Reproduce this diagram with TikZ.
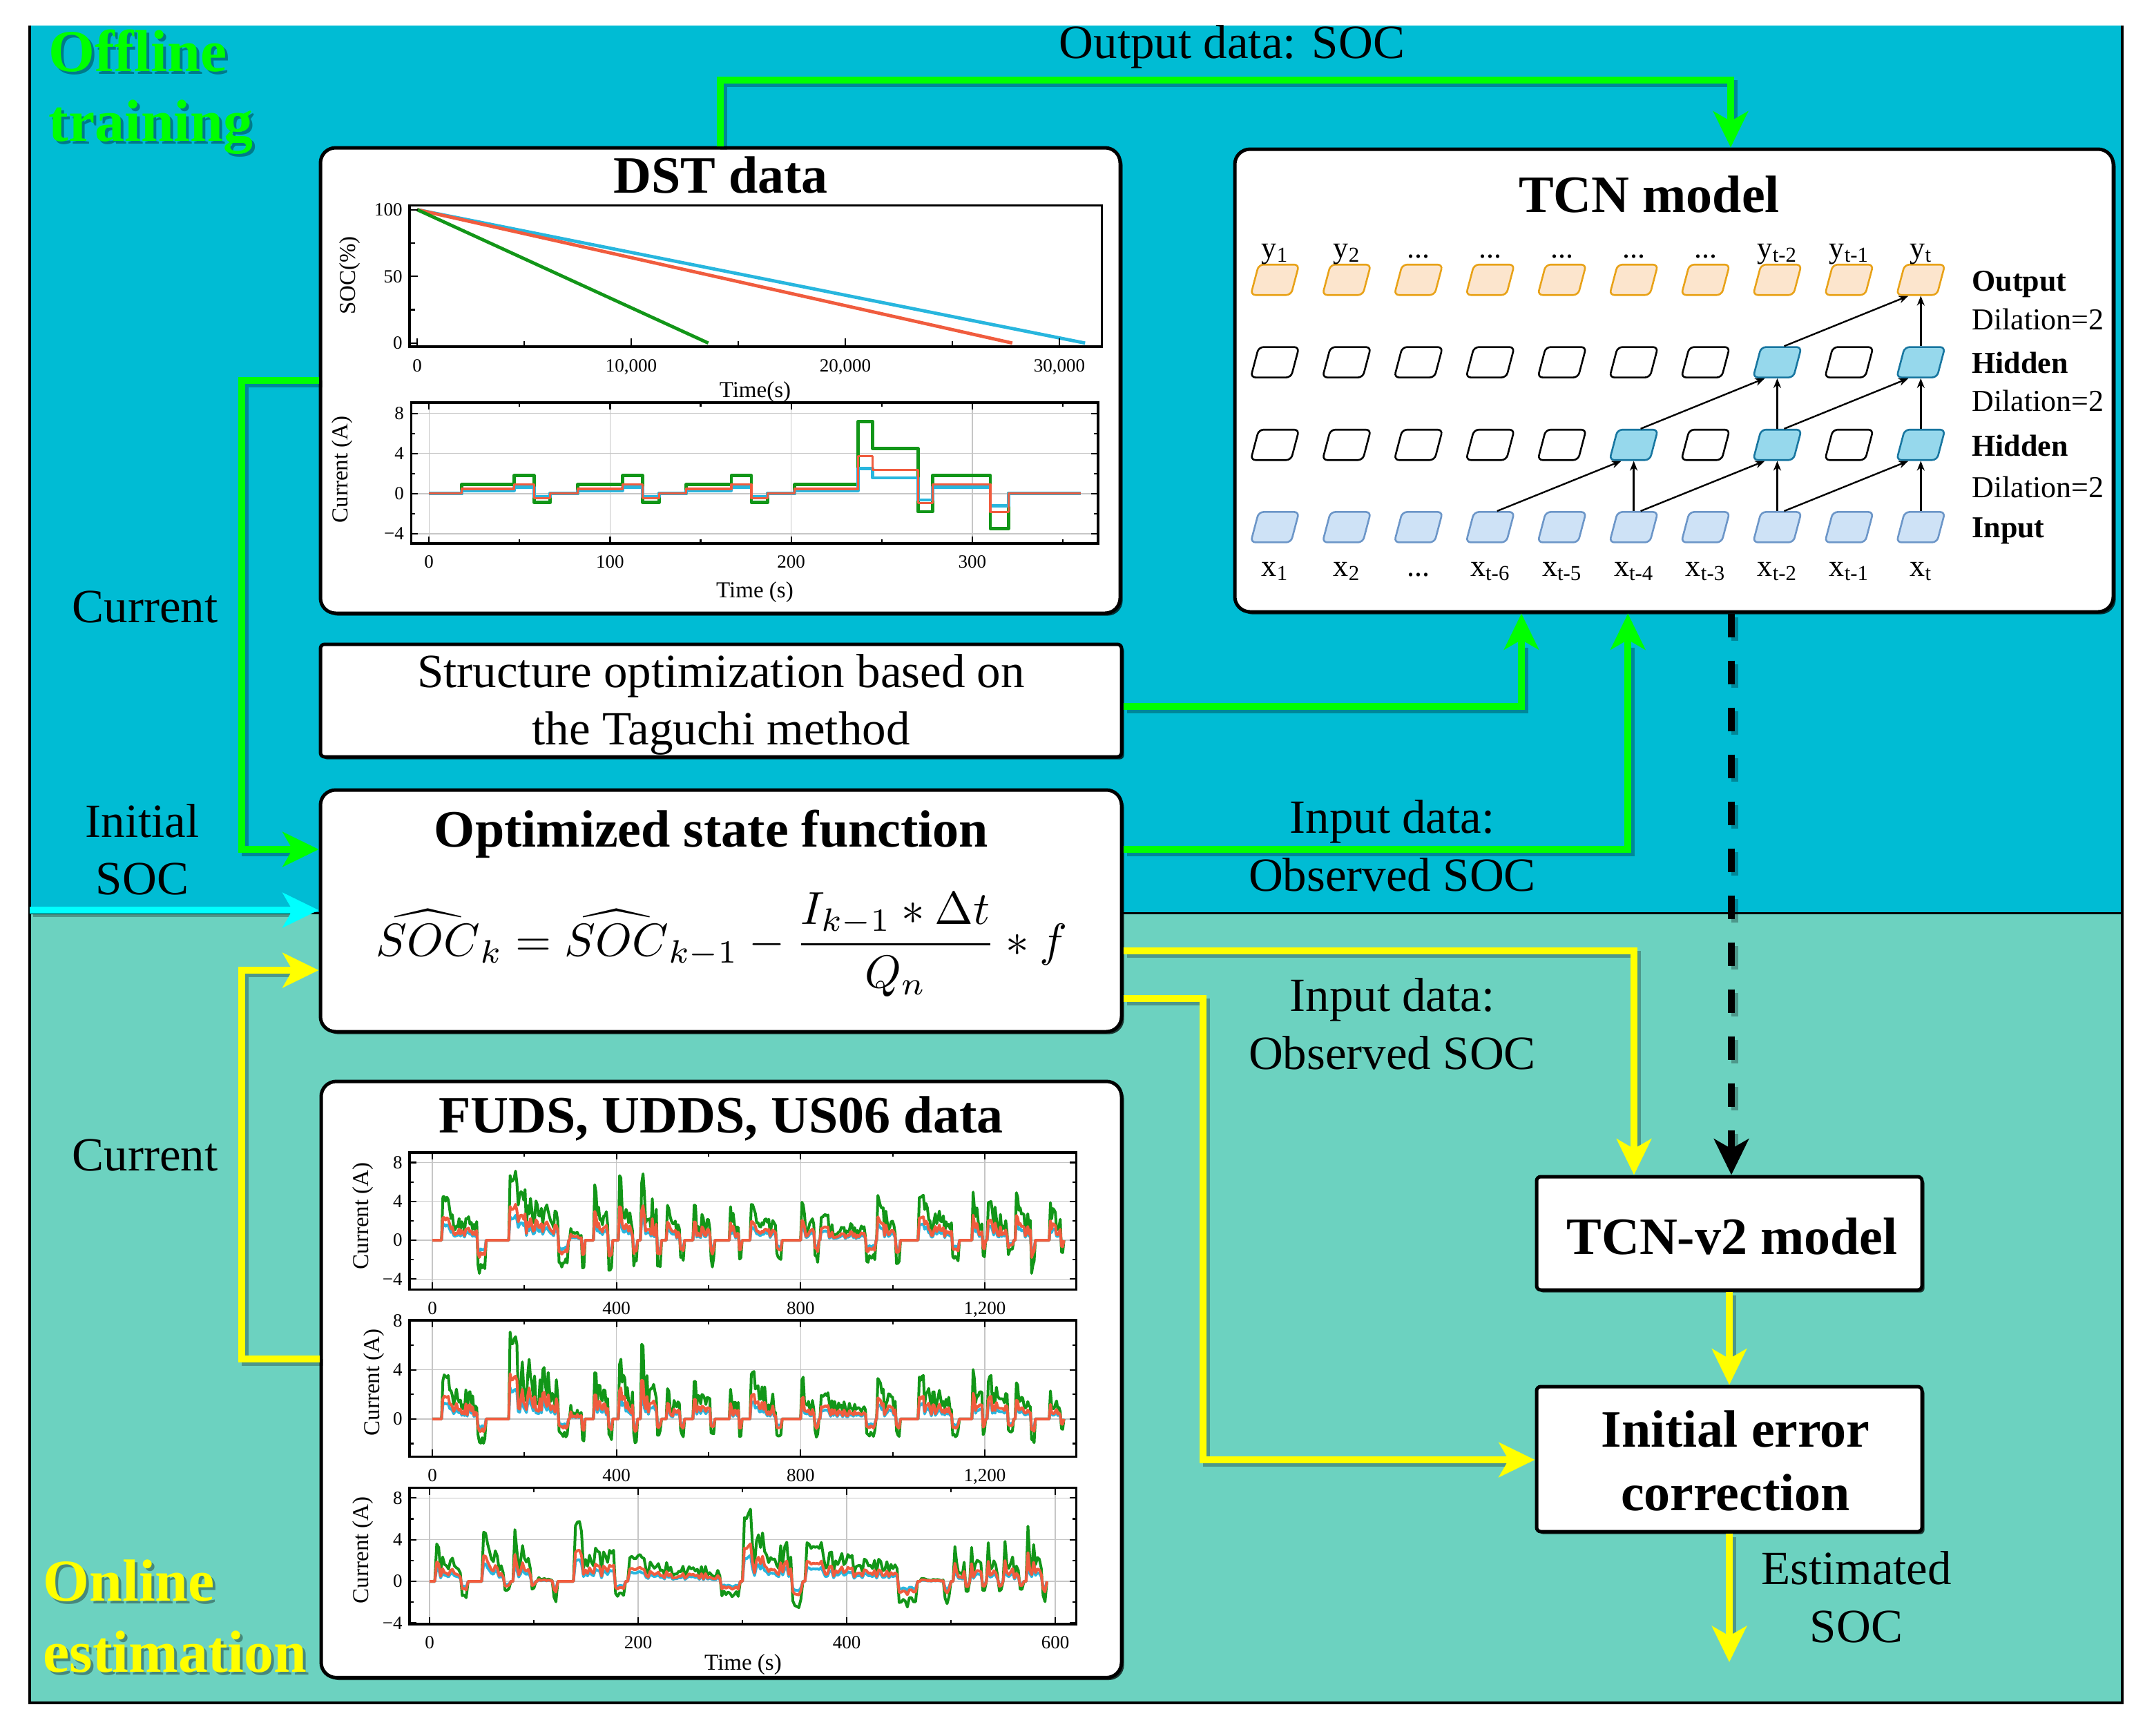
\documentclass[tikz,border=0pt]{standalone}
\usepackage{graphicx}
\usepackage{fontspec}
\setmainfont{Liberation Serif}
\usetikzlibrary{arrows.meta,shapes.geometric,shadows,calc}

\definecolor{bgblue}{RGB}{0,188,212}
\definecolor{bgteal}{RGB}{108,210,192}
\definecolor{fgreen}{RGB}{0,255,0}
\definecolor{fyellow}{RGB}{255,255,0}
\definecolor{fcyan}{RGB}{0,255,255}
\definecolor{pgreen}{RGB}{18,150,24}
\definecolor{pred}{RGB}{240,92,62}
\definecolor{pblue}{RGB}{40,182,222}
\definecolor{outfill}{RGB}{252,229,205}
\definecolor{outdraw}{RGB}{232,162,24}
\definecolor{infill}{RGB}{206,226,246}
\definecolor{indraw}{RGB}{108,150,200}
\definecolor{hidfill}{RGB}{150,216,236}
\definecolor{hiddraw}{RGB}{24,118,160}

\newcommand\fontTitle{\fontsize{38}{44}\selectfont\bfseries}
\newcommand\fontNorm{\fontsize{34.5}{41}\selectfont}
\newcommand\fontBig{\fontsize{43}{50}\selectfont\bfseries}
\newcommand\fontCell{\fontsize{22}{26}\selectfont}
\newcommand\fontTick{\fontsize{13.5}{16}\selectfont}
\newcommand\fontAxis{\fontsize{16.5}{19}\selectfont}

% pseudo driving-cycle generator: #1 macro, #2 seed, #3 step, #4 bursts start/len/peak/dip
\newcommand\gensig[4]{%
  \pgfmathsetseed{#2}%
  \xdef#1{(0,0)}%
  \foreach \bs/\bl/\bp/\bn in {#4}{%
    \pgfmathtruncatemacro\nn{max(4,round(\bl/#3))}%
    \xdef#1{#1 (\bs,0)}%
    \foreach \j in {1,...,\nn}{%
      \pgfmathsetmacro\uu{\j/\nn}%
      \pgfmathsetmacro\ttt{\bs+\bl*\j/(\nn+1)}%
      \pgfmathsetmacro\vv{ifthenelse(\uu<0.16,\bp*(0.8+0.2*rnd),ifthenelse(\uu<0.84,\bp*(0.2+0.6*rnd)*(1.05-0.5*\uu),-\bn*(0.6+0.4*rnd)))}%
      \xdef#1{#1 (\ttt,\vv)}%
    }%
    \pgfmathsetmacro\ttt{\bs+\bl}%
    \xdef#1{#1 (\ttt,0)}%
  }%
}
\newcommand\drawsig[2]{\edef\sigcmd{\noexpand\draw[#1] plot coordinates {#2};}\sigcmd}
\newcommand\tickx[4]{\foreach \q in {#1}{\draw[tickst] (\q,#2) -- ++(0pt,#4); \draw[tickst] (\q,#3) -- ++(0pt,-#4);}}
\newcommand\ticky[4]{\foreach \q in {#1}{\draw[tickst] (#2,\q) -- ++(#4,0pt); \draw[tickst] (#3,\q) -- ++(-#4,0pt);}}
\newcommand\gridx[3]{\foreach \q in {#1}{\draw[gridst] (\q,#2) -- (\q,#3);}}
\newcommand\gridy[3]{\foreach \q in {#1}{\draw[gridst] (#2,\q) -- (#3,\q);}}
\newcommand\labx[3]{\foreach \q/\s in {#2}{\node[tickl, anchor=base] (#1x\q) at ([yshift=-18pt]\q,#3) {\s};}}
\newcommand\laby[3]{\foreach \q/\s in {#2}{\node[tickl, anchor=east] (#1y\q) at ([xshift=-5pt]#3,\q) {\s};}}

\begin{document}
\begin{tikzpicture}[x=1pt,y=-1pt,
  rbox/.style={draw, line width=2.5pt, fill=white, rounded corners=11pt, inner sep=0pt,
    drop shadow={shadow xshift=1.8pt, shadow yshift=-1.8pt, fill=black, opacity=0.75}},
  sbox/.style={draw, line width=2.5pt, fill=white, rounded corners=3pt, inner sep=0pt,
    drop shadow={shadow xshift=1.8pt, shadow yshift=-1.8pt, fill=black, opacity=0.75}},
  flow/.style={line width=5pt, line join=miter, -{Stealth[length=26pt,width=25pt,inset=7pt]}},
  flowshadow/.style={line width=5pt, line join=miter, draw=black, draw opacity=0.28,
    transform canvas={shift={(2.5pt,-2.5pt)}}, shorten >=22pt},
  cell/.style={trapezium, trapezium left angle=76, trapezium right angle=104,
    trapezium stretches=true, minimum width=35pt, minimum height=22pt,
    rounded corners=3.5pt, line width=1.3pt, inner sep=2pt},
  ocell/.style={cell, draw=outdraw, fill=outfill},
  icell/.style={cell, draw=indraw, fill=infill},
  ecell/.style={cell, draw=black, fill=white},
  hcell/.style={cell, draw=hiddraw, fill=hidfill},
  tarr/.style={line width=1.2pt, -{Stealth[length=7pt,width=5.5pt]}},
  tickst/.style={line width=1.1pt},
  gridst/.style={gray!45, line width=0.7pt},
  tickl/.style={font=\fontTick, inner sep=0pt},
  axl/.style={font=\fontAxis, inner sep=0pt},
  ctext/.style={font=\fontNorm, inner sep=0pt, anchor=base},
  ttext/.style={font=\fontTitle, inner sep=0pt, anchor=base},
  celltxt/.style={font=\fontCell, inner sep=0pt, anchor=base},
  sig/.style={line width=2pt, line join=round}
]
\useasboundingbox (0,0) rectangle (1559.5,1256.5);
\fill[white] (0,0) rectangle (1559.5,1256.5);

% ---------- signals ----------
\gensig{\sigF}{11}{3}{20/97/4.8/3.7, 166/130/7.3/2.8, 298/34/1.5/3.0, 350/42/5.8/3.5, 404/42/7.3/3.0, 452/46/7.3/2.8, 508/40/3.6/2.5, 566/48/4.0/3.0, 645/28/4.0/2.5, 690/70/4.0/2.0, 800/40/4.1/2.3, 842/122/2.8/2.4, 965/52/5.0/2.5, 1055/90/5.0/2.3, 1172/30/5.8/2.5, 1205/58/4.8/1.5, 1266/44/5.0/3.5, 1340/32/4.8/1.5}
\gensig{\sigU}{23}{3}{20/97/3.9/2.1, 166/130/7.2/1.5, 298/34/1.2/2.0, 350/42/4.0/2.0, 404/42/5.2/2.0, 452/46/6.1/1.5, 508/40/2.5/1.5, 566/48/3.3/1.8, 645/28/3.0/1.5, 690/70/4.1/1.5, 800/40/3.5/1.5, 842/122/2.2/1.5, 965/52/3.8/1.5, 1055/90/3.8/1.5, 1172/30/4.4/1.5, 1205/58/3.8/1.2, 1266/44/3.2/2.0, 1340/32/2.7/1.0}
\gensig{\sigS}{5}{2}{5/32/4.0/1.7, 50/28/4.8/1.0, 80/22/5.8/0.8, 103/20/0.4/2.0, 138/50/5.8/1.5, 190/108/2.6/1.5, 300/58/7.3/2.6, 360/108/3.8/2.5, 470/30/0.3/2.2, 502/16/3.5/1.2, 518/16/3.5/1.2, 534/16/3.8/1.2, 550/20/4.0/1.0, 572/20/6.5/2.0}
\def\sigD{(0,0) (18,0) (18,0.9) (47,0.9) (47,1.8) (58,1.8) (58,-0.9) (67,-0.9) (67,0) (82,0) (82,0.9) (107,0.9) (107,1.8) (118,1.8) (118,-0.9) (127,-0.9) (127,0) (142,0) (142,0.9) (167,0.9) (167,1.8) (178,1.8) (178,-0.9) (187,-0.9) (187,0) (202,0) (202,0.9) (237,0.9) (237,7.2) (245,7.2) (245,4.5) (270,4.5) (270,-1.8) (278,-1.8) (278,1.8) (310,1.8) (310,-3.5) (320,-3.5) (320,0) (360,0)}

% ---------- background ----------
\fill[bgblue] (21.7,18.3) rectangle (1536.5,661);
\fill[bgteal] (21.7,661) rectangle (1536.5,1233);
\draw[line width=1.5pt] (21.7,661) -- (1536.5,661);
\draw[line width=2pt] (21.7,18.3) -- (21.7,1233) -- (1536.5,1233) -- (1536.5,18.3);

% ---------- region labels ----------
\node[anchor=base west, font=\fontBig, text=black, opacity=0.35, inner sep=0pt] (offS1) at (37,53.7) {Offline};
\node[anchor=base west, font=\fontBig, text=black, opacity=0.35, inner sep=0pt] (offS2) at (37,104.4) {training};
\node[anchor=base west, font=\fontBig, text=fgreen, inner sep=0pt] (off1) at (35,51.7) {Offline};
\node[anchor=base west, font=\fontBig, text=fgreen, inner sep=0pt] (off2) at (35,102.4) {training};
\node[anchor=base west, font=\fontBig, text=black, opacity=0.35, inner sep=0pt] (onS1) at (33,1161.2) {Online};
\node[anchor=base west, font=\fontBig, text=black, opacity=0.35, inner sep=0pt] (onS2) at (33,1212.8) {estimation};
\node[anchor=base west, font=\fontBig, text=fyellow, inner sep=0pt] (on1) at (31,1159.2) {Online};
\node[anchor=base west, font=\fontBig, text=fyellow, inner sep=0pt] (on2) at (31,1210.8) {estimation};

% ---------- boxes ----------
\node[rbox, minimum width=579pt, minimum height=337pt] (dst) at (521.5,275.5) {};
\node[rbox, minimum width=636pt, minimum height=335pt] (tcn) at (1212,275.5) {};
\node[sbox, minimum width=580pt, minimum height=81.5pt] (struct) at (522,507.25) {};
\node[rbox, minimum width=580pt, minimum height=175pt] (opt) at (522,659.5) {};
\node[rbox, minimum width=579.5pt, minimum height=431.7pt] (fuds) at (522.25,998.85) {};
\node[sbox, minimum width=279pt, minimum height=82pt] (tcn2) at (1252,893) {};
\node[sbox, minimum width=279pt, minimum height=105pt] (init) at (1252,1056.5) {};

% ---------- box texts ----------
\node[ttext] (dstT) at (521.8,139.7) {DST data};
\node[ttext] (tcnT) at (1194,153.6) {TCN model};
\node[ctext] (strT1) at (522,497.5) {Structure optimization based on};
\node[ctext] (strT2) at (522,539.2) {the Taguchi method};
\node[ttext] (optT) at (515,613.3) {Optimized state function};
\node[inner sep=0pt] (formula) at (522.5,684)
  {\resizebox{500pt}{!}{$\displaystyle \widehat{SOC}_{k}=\widehat{SOC}_{k-1}-\frac{I_{k-1}*\Delta t}{Q_{n}}*f$}};
\node[ttext] (fudsT) at (522,820.2) {FUDS, UDDS, US06 data};
\node[ttext] (tcn2T) at (1254,908.2) {TCN-v2 model};
\node[ttext] (initT1) at (1256.5,1047.9) {Initial error};
\node[ttext] (initT2) at (1256.5,1093.8) {correction};

% ---------- free labels ----------
\node[ctext] (lOut) at (892,42) {Output data: SOC};
\node[ctext] (lCur1) at (105,450.5) {Current};
\node[ctext] (lIni1) at (103,606) {Initial};
\node[ctext] (lIni2) at (103,647.5) {SOC};
\node[ctext] (lCur2) at (105,847.5) {Current};
\node[ctext] (lIn1) at (1008,603.3) {Input data:};
\node[ctext] (lIn2) at (1008,645.3) {Observed SOC};
\node[ctext] (lIn3) at (1008,732.2) {Input data:};
\node[ctext] (lIn4) at (1008,774.3) {Observed SOC};
\node[ctext] (lEst1) at (1344,1147.3) {Estimated};
\node[ctext] (lEst2) at (1344,1189.4) {SOC};

% ---------- DST SOC plot ----------
\begin{scope}[shift={(302pt,-248.4pt)}, x=15.5pt, y=0.966pt]
  \draw[pblue, line width=2.4pt] (0,100) -- (31.2,0);
  \draw[pred, line width=2.4pt] (0,100) -- (27.8,0);
  \draw[pgreen, line width=2.4pt] (0,100) -- (13.6,0);
  \draw[line width=1.8pt] (-0.355,-2.7) rectangle (31.98,103.2);
  \foreach \q in {0,10,20,30} \draw[tickst] (\q,-2.7) -- ++(0pt,6pt);
  \foreach \q in {5,15,25} \draw[tickst] (\q,-2.7) -- ++(0pt,4pt);
  \foreach \q in {0,50,100} \draw[tickst] (-0.355,\q) -- ++(6pt,0pt);
  \foreach \q in {25,75} \draw[tickst] (-0.355,\q) -- ++(4pt,0pt);
  \labx{soc}{0/0, 10/{10,000}, 20/{20,000}, 30/{30,000}}{-2.7}
  \laby{soc}{0/0, 50/50, 100/100}{-0.355}
\end{scope}
\node[axl, anchor=base] (socXl) at (546.7,287.5) {Time(s)};
\node[axl, rotate=90] (socYl) at (253.5,199.5) {SOC(\%)};

% ---------- DST current plot ----------
\begin{scope}[shift={(310.6pt,-357.4pt)}, x=1.311pt, y=7.26pt]
  \gridx{0,100,200,300}{-4.97}{9.08}
  \gridy{-4,0,4,8}{-9.9}{369.5}
  \begin{scope}
    \clip (-9.9,-4.97) rectangle (369.5,9.08);
    \drawsig{pgreen, sig, line width=2.4pt}{\sigD}
    \begin{scope}[yscale=0.35]\drawsig{pblue, sig, line width=2.4pt}{\sigD}\end{scope}
    \begin{scope}[yscale=0.52]\drawsig{pred, sig, line width=1.6pt}{\sigD}\end{scope}
  \end{scope}
  \draw[line width=1.6pt] (-9.9,-4.97) rectangle (369.5,9.08);
  \tickx{0,100,200,300}{-4.97}{9.08}{5pt}
  \tickx{50,150,250,350}{-4.97}{9.08}{3pt}
  \ticky{-4,0,4,8}{-9.9}{369.5}{5pt}
  \ticky{-2,2,6}{-9.9}{369.5}{3pt}
  \labx{dc}{0/0, 100/100, 200/200, 300/300}{-4.97}
  \laby{dc}{-4/−4, 0/0, 4/4, 8/8}{-9.9}
\end{scope}
\node[axl, anchor=base] (dcXl) at (546.5,432.6) {Time (s)};
\node[axl, rotate=90] (dcYl) at (248,340) {Current (A)};

% ---------- FUDS plot ----------
\begin{scope}[shift={(313pt,-898pt)}, x=0.3333pt, y=7.03pt]
  \gridx{0,400,800,1200}{-5.06}{9.03}
  \gridy{-4,0,4,8}{-49.5}{1399}
  \begin{scope}
    \clip (-49.5,-5.06) rectangle (1399,9.03);
    \drawsig{pgreen, sig}{\sigF}
    \begin{scope}[yscale=0.36]\drawsig{pblue, sig}{\sigF}\end{scope}
    \begin{scope}[yscale=0.52]\drawsig{pred, sig}{\sigF}\end{scope}
  \end{scope}
  \draw[line width=1.6pt] (-49.5,-5.06) rectangle (1399,9.03);
  \tickx{0,400,800,1200}{-5.06}{9.03}{5pt}
  \tickx{200,600,1000}{-5.06}{9.03}{3pt}
  \ticky{-4,0,4,8}{-49.5}{1399}{5pt}
  \ticky{-2,2,6}{-49.5}{1399}{3pt}
  \labx{fa}{0/0, 400/400, 800/800, 1200/{1,200}}{-5.06}
  \laby{fa}{-4/−4, 0/0, 4/4, 8/8}{-49.5}
\end{scope}
\node[axl, rotate=90] (faYl) at (263,880.5) {Current (A)};

% ---------- UDDS plot ----------
\begin{scope}[shift={(313pt,-1027.4pt)}, x=0.3333pt, y=8.9pt]
  \gridx{0,400,800,1200}{-3.06}{8.02}
  \gridy{0,4,8}{-49.5}{1399}
  \begin{scope}
    \clip (-49.5,-3.06) rectangle (1399,8.02);
    \drawsig{pgreen, sig}{\sigU}
    \begin{scope}[yscale=0.36]\drawsig{pblue, sig}{\sigU}\end{scope}
    \begin{scope}[yscale=0.52]\drawsig{pred, sig}{\sigU}\end{scope}
  \end{scope}
  \draw[line width=1.6pt] (-49.5,-3.06) rectangle (1399,8.02);
  \tickx{0,400,800,1200}{-3.06}{8.02}{5pt}
  \tickx{200,600,1000}{-3.06}{8.02}{3pt}
  \ticky{0,4,8}{-49.5}{1399}{5pt}
  \ticky{-2,2,6}{-49.5}{1399}{3pt}
  \labx{fb}{0/0, 400/400, 800/800, 1200/{1,200}}{-3.06}
  \laby{fb}{0/0, 4/4, 8/8}{-49.5}
\end{scope}
\node[axl, rotate=90] (fbYl) at (270.7,1001) {Current (A)};

% ---------- US06 plot ----------
\begin{scope}[shift={(311pt,-1145pt)}, x=0.755pt, y=7.55pt]
  \gridx{0,200,400,600}{-4.1}{8.95}
  \gridy{-4,0,4,8}{-19.2}{620.3}
  \begin{scope}
    \clip (-19.2,-4.1) rectangle (620.3,8.95);
    \drawsig{pgreen, sig}{\sigS}
    \begin{scope}[yscale=0.36]\drawsig{pblue, sig}{\sigS}\end{scope}
    \begin{scope}[yscale=0.52]\drawsig{pred, sig}{\sigS}\end{scope}
  \end{scope}
  \draw[line width=1.6pt] (-19.2,-4.1) rectangle (620.3,8.95);
  \tickx{0,200,400,600}{-4.1}{8.95}{5pt}
  \tickx{100,300,500}{-4.1}{8.95}{3pt}
  \ticky{-4,0,4,8}{-19.2}{620.3}{5pt}
  \ticky{-2,2,6}{-19.2}{620.3}{3pt}
  \labx{fc}{0/0, 200/200, 400/400, 600/600}{-4.1}
  \laby{fc}{-4/−4, 0/0, 4/4, 8/8}{-19.2}
\end{scope}
\node[axl, anchor=base] (fcXl) at (538,1209) {Time (s)};
\node[axl, rotate=90] (fcYl) at (263,1122.3) {Current (A)};

% ---------- TCN cells ----------
\foreach \i in {1,...,10}{
  \pgfmathsetmacro\cx{923+51.96*(\i-1)}
  \node[ocell] (o\i) at (\cx,202.6) {};
  \node[icell] (in\i) at (\cx,381.7) {};
}
\foreach \i in {1,2,3,4,5,6,7,9}{
  \pgfmathsetmacro\cx{923+51.96*(\i-1)}
  \node[ecell] (ha\i) at (\cx,262.3) {};
}
\foreach \i in {8,10}{
  \pgfmathsetmacro\cx{923+51.96*(\i-1)}
  \node[hcell] (ha\i) at (\cx,262.3) {};
}
\foreach \i in {1,2,3,4,5,7,9}{
  \pgfmathsetmacro\cx{923+51.96*(\i-1)}
  \node[ecell] (hb\i) at (\cx,322.1) {};
}
\foreach \i in {6,8,10}{
  \pgfmathsetmacro\cx{923+51.96*(\i-1)}
  \node[hcell] (hb\i) at (\cx,322.1) {};
}
\foreach \a/\b in {4/6, 6/8, 8/10} \draw[tarr] ([xshift=5pt]in\a.north) -- ([xshift=-9pt]hb\b.south);
\foreach \a in {6,8,10} \draw[tarr] (in\a.north) -- (hb\a.south);
\foreach \a/\b in {6/8, 8/10} \draw[tarr] ([xshift=5pt]hb\a.north) -- ([xshift=-9pt]ha\b.south);
\foreach \a in {8,10} \draw[tarr] (hb\a.north) -- (ha\a.south);
\draw[tarr] ([xshift=5pt]ha8.north) -- ([xshift=-9pt]o10.south);
\draw[tarr] (ha10.north) -- (o10.south);

\foreach \i/\s in {1/{y\textsubscript{1}}, 2/{y\textsubscript{2}}, 3/{...}, 4/{...}, 5/{...}, 6/{...}, 7/{...}, 8/{y\textsubscript{t-2}}, 9/{y\textsubscript{t-1}}, 10/{y\textsubscript{t}}}{
  \pgfmathsetmacro\cx{923+51.96*(\i-1)}
  \node[celltxt] (yl\i) at (\cx,186.6) {\s};
}
\foreach \i/\s in {1/{x\textsubscript{1}}, 2/{x\textsubscript{2}}, 3/{...}, 4/{x\textsubscript{t-6}}, 5/{x\textsubscript{t-5}}, 6/{x\textsubscript{t-4}}, 7/{x\textsubscript{t-3}}, 8/{x\textsubscript{t-2}}, 9/{x\textsubscript{t-1}}, 10/{x\textsubscript{t}}}{
  \pgfmathsetmacro\cx{923+51.96*(\i-1)}
  \node[celltxt] (xl\i) at (\cx,417) {\s};
}
\node[celltxt, anchor=base west, font=\fontCell\bfseries] (rOut) at (1427.5,210.5) {Output};
\node[celltxt, anchor=base west] (rD1) at (1427.5,238.8) {Dilation=2};
\node[celltxt, anchor=base west, font=\fontCell\bfseries] (rH1) at (1427.5,270) {Hidden};
\node[celltxt, anchor=base west] (rD2) at (1427.5,297.5) {Dilation=2};
\node[celltxt, anchor=base west, font=\fontCell\bfseries] (rH2) at (1427.5,330) {Hidden};
\node[celltxt, anchor=base west] (rD3) at (1427.5,360) {Dilation=2};
\node[celltxt, anchor=base west, font=\fontCell\bfseries] (rIn) at (1427.5,389) {Input};

% ---------- connectors ----------
\coordinate (gA) at (521.5,58);
\coordinate (gB) at (1253,58);
\coordinate (gC) at (175,275.7);
\coordinate (gD) at (175,615);
\coordinate (gE) at (1101.5,511.7);
\coordinate (gF) at (1178.6,615);
\coordinate (cA) at (21.7,659);
\coordinate (yA) at (175,984);
\coordinate (yB) at (175,702.5);
\coordinate (yC) at (1183,688.3);
\coordinate (yD) at (871,723);
\coordinate (yE) at (871,1057);
\coordinate (yF) at (1252,1203.5);
\coordinate (dA) at (1253.5,450);

% shadows
\draw[flowshadow] (dst.north) -- (gA) -- (gB) -- (gB |- tcn.north);
\draw[flowshadow] (gC -| dst.west) -- (gC) -- (gD) -- (gD -| opt.west);
\draw[flowshadow] (gE -| struct.east) -- (gE) -- (gE |- tcn.south);
\draw[flowshadow] (gF -| opt.east) -- (gF) -- (gF |- tcn.south);
\draw[flowshadow] (cA) -- (cA -| opt.west);
\draw[flowshadow] (yA -| fuds.west) -- (yA) -- (yB) -- (yB -| opt.west);
\draw[flowshadow] (yC -| opt.east) -- (yC) -- (yC |- tcn2.north);
\draw[flowshadow] (yD -| opt.east) -- (yD) -- (yE) -- (yE -| init.west);
\draw[flowshadow, dash pattern=on 17pt off 17pt] (dA |- tcn.south) -- (dA |- tcn2.north);
\draw[flowshadow] (tcn2.south) -- (init.north);
\draw[flowshadow] (init.south) -- (yF);

% coloured flows
\draw[flow, fgreen] (dst.north) -- (gA) -- (gB) -- (gB |- tcn.north);
\draw[flow, fgreen] (gC -| dst.west) -- (gC) -- (gD) -- (gD -| opt.west);
\draw[flow, fgreen] (gE -| struct.east) -- (gE) -- (gE |- tcn.south);
\draw[flow, fgreen] (gF -| opt.east) -- (gF) -- (gF |- tcn.south);
\draw[flow, fcyan] (cA) -- (cA -| opt.west);
\draw[flow, fyellow] (yA -| fuds.west) -- (yA) -- (yB) -- (yB -| opt.west);
\draw[flow, fyellow] (yC -| opt.east) -- (yC) -- (yC |- tcn2.north);
\draw[flow, fyellow] (yD -| opt.east) -- (yD) -- (yE) -- (yE -| init.west);
\draw[flow, black, dash pattern=on 17pt off 17pt] (dA |- tcn.south) -- (dA |- tcn2.north);
\draw[flow, fyellow] (tcn2.south) -- (init.north);
\draw[flow, fyellow] (init.south) -- (yF);
\end{tikzpicture}
\end{document}
